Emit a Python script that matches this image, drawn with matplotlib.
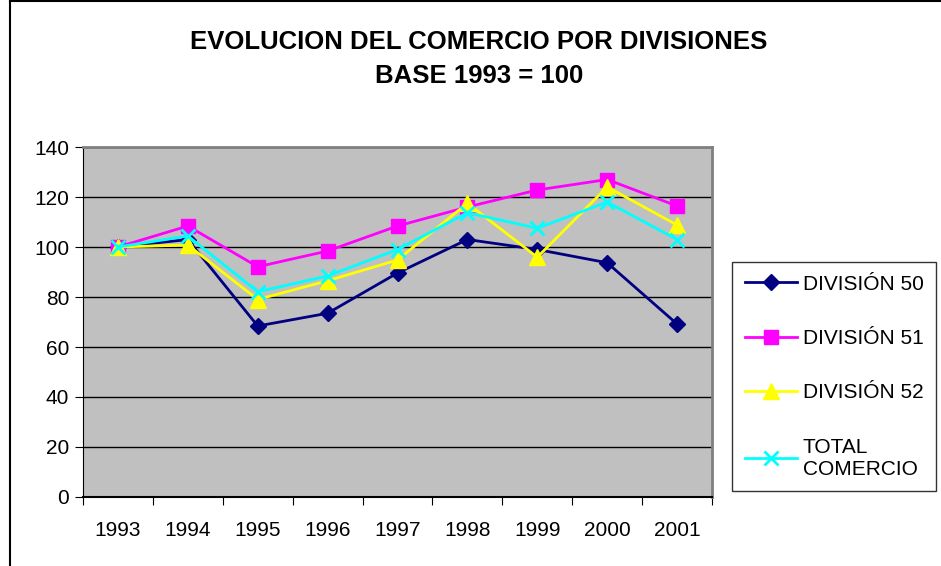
import matplotlib.pyplot as plt
from matplotlib.lines import Line2D
import numpy as np

plt.rcParams['font.family'] = ['Liberation Sans', 'DejaVu Sans']

years = ["1993", "1994", "1995", "1996", "1997", "1998", "1999", "2000", "2001"]
div50 = [100, 103, 68.4, 73.5, 89.6, 103, 99, 93.7, 69.2]
div51 = [100, 108.4, 92.1, 98.4, 108.4, 116, 122.8, 127, 116.4]
div52 = [100, 100.8, 79, 86.5, 94.8, 117.5, 95.9, 124, 108.8]
total = [100, 104.4, 82.1, 88.4, 99, 113.7, 107.5, 118, 103]
labels = ["DIVISIÓN 50", "DIVISIÓN 51", "DIVISIÓN 52", "TOTAL\nCOMERCIO"]

W, H = 941, 566
fig = plt.figure(figsize=(W / 100, H / 100), dpi=100)
ax = fig.add_axes([83 / W, 1 - 497 / H, (712 - 83) / W, (497 - 147) / H])
ax.set_facecolor("#C0C0C0")

x = np.arange(len(years))
styles = [
    dict(color="#000080", marker="D", ms=8),
    dict(color="#FF00FF", marker="s", ms=10),
    dict(color="#FFFF00", marker="^", ms=11),
    dict(color="#00FFFF", marker="x", ms=10, mew=2),
]
series = [div50, div51, div52, total]
handles = []
for vals, st, lab in zip(series, styles, labels):
    h, = ax.plot(x, vals, lw=2, label=lab, **st)
    handles.append(h)

ax.set_xlim(-0.5, len(years) - 0.5)
ax.set_ylim(0, 140)
ax.set_yticks(range(0, 141, 20))
ax.yaxis.grid(True, color="black", lw=1)
ax.set_axisbelow(True)
ax.set_xticks(np.arange(-0.5, len(years), 1))
ax.set_xticklabels([])
ax.set_xticks(x, minor=True)
ax.set_xticklabels(years, minor=True)
ax.tick_params(axis="x", which="minor", length=0, pad=17, labelsize=15)
ax.tick_params(axis="x", which="major", length=6, color="black")
ax.tick_params(axis="y", length=6, labelsize=15, pad=4)
for s in ["top", "right"]:
    ax.spines[s].set_color("#808080")
    ax.spines[s].set_linewidth(2)
ax.spines["left"].set_color("black")
ax.spines["bottom"].set_color("black")
ax.spines["bottom"].set_linewidth(1.5)

fig.text(479 / W, 1 - 42 / H, "EVOLUCION DEL COMERCIO POR DIVISIONES",
         ha="center", va="center", fontsize=18.5, fontweight="bold")
fig.text(479 / W, 1 - 76 / H, "BASE 1993 = 100",
         ha="center", va="center", fontsize=18.5, fontweight="bold")

leg = fig.legend(handles=handles, labels=labels, loc="upper left",
                 bbox_to_anchor=(732 / W, 1 - 262 / H), frameon=True,
                 fancybox=False, edgecolor="black", fontsize=15,
                 labelspacing=1.7, handlelength=2.5, handletextpad=0.3,
                 borderpad=0.6, borderaxespad=0)
leg.get_frame().set_linewidth(1)

# outer chart frame
fig.add_artist(Line2D([10 / W, 10 / W], [0, 1 - 1 / H], color="black", lw=1.5))
fig.add_artist(Line2D([10 / W, 1], [1 - 1 / H, 1 - 1 / H], color="black", lw=1.5))

fig.savefig("out.png", dpi=100)
